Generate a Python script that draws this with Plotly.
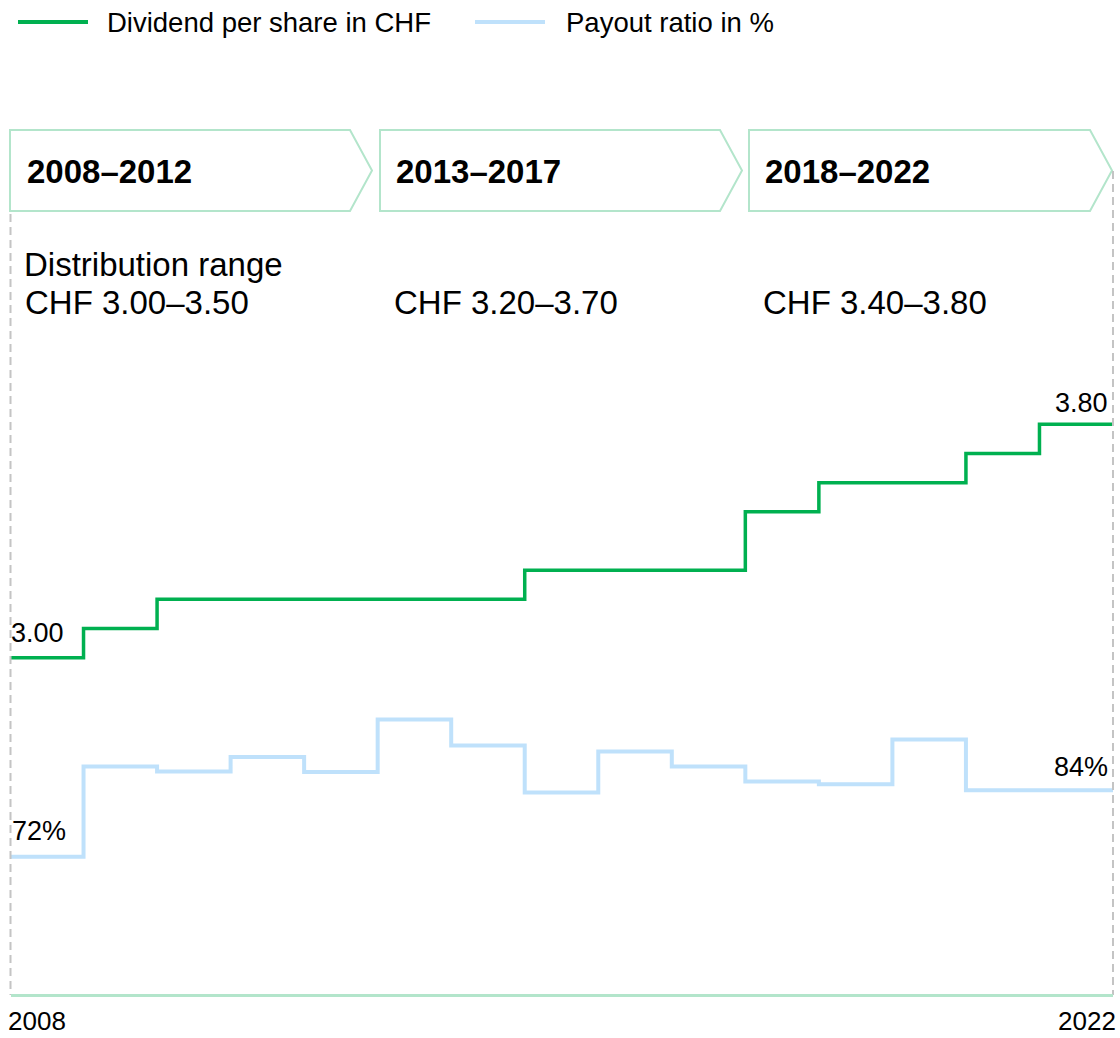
import plotly.graph_objects as go

# ---- data ----
years = list(range(2008, 2023))
dividend_chf = [3.00, 3.10, 3.20, 3.20, 3.20, 3.20, 3.20, 3.30, 3.30, 3.30,
                3.50, 3.60, 3.60, 3.70, 3.80]
payout_pct = [72.0, 88.3, 87.4, 90.0, 87.3, 96.8, 92.1, 83.6, 91.0, 88.3,
              85.6, 85.1, 93.2, 84.0, 84.0]
periods = ["2008–2012", "2013–2017", "2018–2022"]
ranges = ["CHF 3.00–3.50", "CHF 3.20–3.70", "CHF 3.40–3.80"]
series_names = ["Dividend per share in CHF", "Payout ratio in %"]

GREEN = "#00b050"
BLUE = "#bfe1fb"
MINT = "#b3e5cb"
GREY = "#c4c4c4"
FONT = "Liberation Sans, Arial, sans-serif"

W, H = 1120, 1038
L, R, T, B = 10, 1113, 130, 995


def px(x):
    return (x - L) / (R - L)


def py(y):
    return (B - y) / (B - T)


# step lines: extend last value to end of final year
x_step = years + [years[-1] + 1]

fig = go.Figure()
fig.add_trace(go.Scatter(
    x=x_step, y=dividend_chf + [dividend_chf[-1]], mode="lines",
    line=dict(color=GREEN, width=3.5, shape="hv"), name=series_names[0],
    showlegend=False, yaxis="y"))
fig.add_trace(go.Scatter(
    x=x_step, y=payout_pct + [payout_pct[-1]], mode="lines",
    line=dict(color=BLUE, width=4, shape="hv"), name=series_names[1],
    showlegend=False, yaxis="y2"))

shapes = []
annotations = []

# chevron boxes
box_px = [(10, 350, 372), (380, 720, 742), (749, 1090, 1112)]
for (x0, x1, tip) in box_px:
    path = (f"M {px(x0)} {py(130)} L {px(x1)} {py(130)} L {px(tip)} {py(170.5)} "
            f"L {px(x1)} {py(211)} L {px(x0)} {py(211)} Z")
    shapes.append(dict(type="path", xref="paper", yref="paper", path=path,
                       line=dict(color=MINT, width=2), fillcolor="rgba(0,0,0,0)"))

# dashed vertical guides
shapes.append(dict(type="line", xref="paper", yref="paper", x0=px(10.5), x1=px(10.5),
                   y0=py(214), y1=py(995), line=dict(color=GREY, width=2, dash="8px,5px")))
shapes.append(dict(type="line", xref="paper", yref="paper", x0=px(1113), x1=px(1113),
                   y0=py(171), y1=py(995), line=dict(color=GREY, width=2, dash="8px,5px")))
# baseline
shapes.append(dict(type="line", xref="paper", yref="paper", x0=px(11), x1=px(1113),
                   y0=py(995.5), y1=py(995.5), line=dict(color=MINT, width=3)))

# legend (manual)
shapes.append(dict(type="line", xref="paper", yref="paper", x0=px(18), x1=px(88),
                   y0=py(22), y1=py(22), line=dict(color=GREEN, width=4)))
shapes.append(dict(type="line", xref="paper", yref="paper", x0=px(475), x1=px(545),
                   y0=py(22), y1=py(22), line=dict(color=BLUE, width=4)))
leg_font = dict(size=27.5, color="#000", family=FONT)
annotations.append(dict(xref="paper", yref="paper", x=px(105), y=py(22), text=series_names[0],
                        showarrow=False, xanchor="left", yanchor="middle", font=leg_font))
annotations.append(dict(xref="paper", yref="paper", x=px(564), y=py(22), text=series_names[1],
                        showarrow=False, xanchor="left", yanchor="middle", font=leg_font))

# period headings and ranges
big_font = dict(size=33, color="#000", family=FONT)
head_x = [25, 394, 763]
for i, (p, rg) in enumerate(zip(periods, ranges)):
    annotations.append(dict(xref="paper", yref="paper", x=px(head_x[i]), y=py(172),
                            text=f"<b>{p}</b>", showarrow=False, xanchor="left",
                            yanchor="middle", font=dict(size=33, color="#000", family=FONT)))
    annotations.append(dict(xref="paper", yref="paper", x=px(head_x[i] - 2), y=py(302),
                            text=rg, showarrow=False, xanchor="left",
                            yanchor="middle", font=big_font))
annotations.append(dict(xref="paper", yref="paper", x=px(22), y=py(264),
                        text="Distribution range", showarrow=False, xanchor="left",
                        yanchor="middle", font=big_font))

# value labels
lab_font = dict(size=27, color="#000", family=FONT)
annotations.append(dict(x=years[0], y=dividend_chf[0], xref="x", yref="y",
                        text=f"{dividend_chf[0]:.2f}", showarrow=False, xanchor="left",
                        yanchor="middle", xshift=-1, yshift=25, font=lab_font))
annotations.append(dict(x=years[-1] + 1, y=dividend_chf[-1], xref="x", yref="y",
                        text=f"{dividend_chf[-1]:.2f}", showarrow=False, xanchor="right",
                        yanchor="middle", xshift=-3, yshift=21, font=lab_font))
annotations.append(dict(x=years[0], y=payout_pct[0], xref="x", yref="y2",
                        text=f"{payout_pct[0]:.0f}%", showarrow=False, xanchor="left",
                        yanchor="middle", xshift=0, yshift=26, font=lab_font))
annotations.append(dict(x=years[-1] + 1, y=payout_pct[-1], xref="x", yref="y2",
                        text=f"{payout_pct[-1]:.0f}%", showarrow=False, xanchor="right",
                        yanchor="middle", xshift=-3, yshift=23, font=lab_font))

# year labels at axis ends
yr_font = dict(size=26, color="#000", family=FONT)
annotations.append(dict(x=years[0], y=0, xref="x", yref="paper", text=str(years[0]),
                        showarrow=False, xanchor="left", yanchor="top", yshift=-10,
                        xshift=-3, borderpad=0, font=yr_font))
annotations.append(dict(x=years[-1] + 1, y=0, xref="x", yref="paper", text=str(years[-1]),
                        showarrow=False, xanchor="right", yanchor="top", yshift=-10,
                        xshift=4, borderpad=0, font=yr_font))

# axis ranges so the two series sit as in the reference
y_range = [1.8439, 4.8087]
y2_range = [47.0, 203.34]

fig.update_layout(
    width=W, height=H,
    margin=dict(l=L, r=W - R, t=T, b=H - B, pad=0),
    paper_bgcolor="white", plot_bgcolor="white",
    xaxis=dict(range=[years[0], years[-1] + 1], visible=False, fixedrange=True),
    yaxis=dict(range=y_range, visible=False),
    yaxis2=dict(range=y2_range, visible=False, overlaying="y", side="right"),
    shapes=shapes, annotations=annotations,
    font=dict(family=FONT),
    showlegend=False,
)

fig.write_html(
    "out.html",
    config={"displayModeBar": False},
    post_script="document.body.style.margin='0';document.body.style.padding='0';"
                "document.body.style.overflow='hidden';",
)
